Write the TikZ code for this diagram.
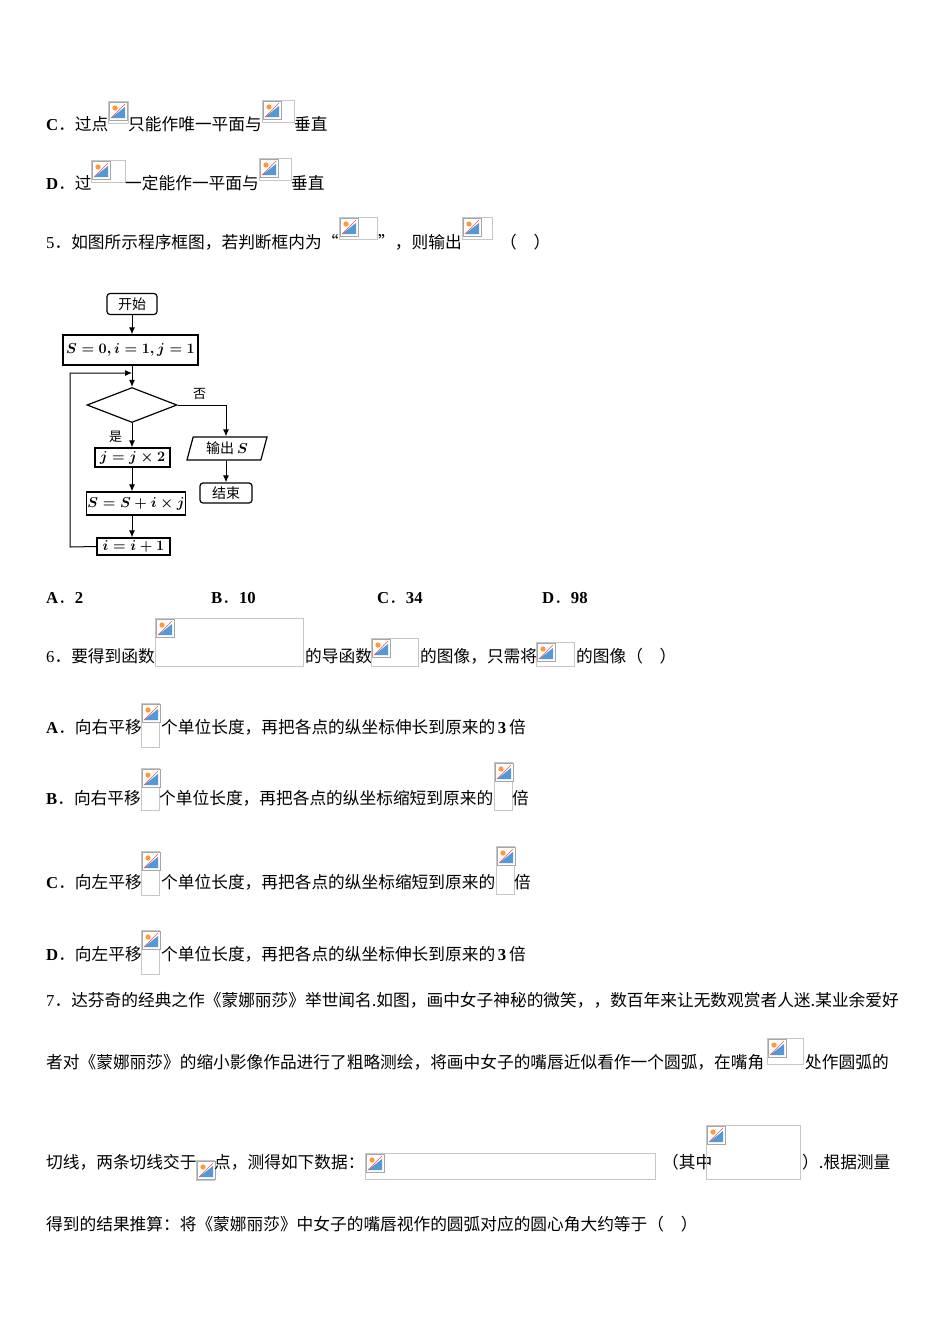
\documentclass[tikz,border=0pt]{standalone}
\usepackage{fontspec}
\usetikzlibrary{shapes.geometric,arrows.meta}
\setmainfont{Liberation Serif}
\newfontfamily\cjk{Noto Sans CJK SC}
\newcommand{\lb}[1]{{\rmfamily\bfseries #1}}
\begin{document}
\begin{tikzpicture}[x=1pt,y=-1pt,
  tx/.style={anchor=base west,inner sep=0pt,font=\fontsize{16.7}{19}\selectfont\cjk},
  fb/.style={draw,line width=1.2pt,inner sep=2pt,font=\fontsize{14}{16}\selectfont\boldmath},
  arr/.style={-{Latex[length=7pt,width=6pt]},line width=1pt}]
\useasboundingbox (0,0) rectangle (950,1344);
\fill[white] (0,0) rectangle (950,1344);
\newcommand{\imgbox}[4]{%
  \draw[gray!45,line width=0.6pt] (#1,#2) rectangle ++(#3,#4);
  \begin{scope}[shift={(#1+1,#2+1)}]
    \fill[white] (0,0) rectangle (18,18);
    \draw[gray!70,line width=0.6pt] (0,0) rectangle (18,18);
    \fill[cyan!60!blue!70] (2,16) -- (16,5) -- (16,16) -- cycle;
    \fill[orange!80] (6,6) circle (2.6);
    \draw[red!70,line width=0.6pt] (2,16) -- (16,2);
  \end{scope}}
% line C
\node[tx] (c1) at (46,130) {\lb{C}．过点};
\imgbox{108}{101}{20}{22}
\node[tx] (c2) at (128,130) {只能作唯一平面与};
\imgbox{262}{100}{32}{22}
\node[tx] (c3) at (294,130) {垂直};
% line D
\node[tx] (d1) at (46,189) {\lb{D}．过};
\imgbox{91}{160}{34}{22}
\node[tx] (d2) at (125,189) {一定能作一平面与};
\imgbox{259}{158}{32}{22}
\node[tx] (d3) at (291,189) {垂直};
% line 5
\node[tx] (q5a) at (46,248) {{\rmfamily 5}．如图所示程序框图，若判断框内为“};
\imgbox{339}{217}{38}{22}
\node[tx] (q5b) at (378,248) {”，则输出};
\imgbox{462}{217}{30}{22}
\node[tx] (q5c) at (500,248) {（\quad）};
% flowchart
\node[fb,rounded corners=3pt,minimum width=50pt,minimum height=21pt,font=\fontsize{14}{16}\selectfont\cjk] (st) at (132,304) {开始};
\node[fb,minimum width=135pt,minimum height=30pt] (init) at (130.5,350) {$S=0,i=1,j=1$};
\coordinate (m1) at (132,373);
\node[draw,line width=1.2pt,diamond,aspect=2.6,minimum width=90pt,minimum height=35pt,inner sep=0pt] (dia) at (132,405) {};
\node[fb,minimum width=75pt,minimum height=19pt,inner sep=1pt] (jb) at (132.5,457.5) {$j=j\times2$};
\node[fb,minimum width=98pt,minimum height=23pt,inner sep=1pt] (sb) at (136,503.5) {$S=S+i\times j$};
\node[fb,minimum width=73pt,minimum height=17pt,inner sep=1pt] (ib) at (133.5,546.5) {$i=i+1$};
\node[fb,trapezium,trapezium left angle=75,trapezium right angle=105,minimum width=66pt,minimum height=23pt,inner sep=1pt,font=\fontsize{14}{16}\selectfont\cjk\boldmath] (out) at (227,448.5) {输出 $S$};
\node[fb,rounded corners=3pt,minimum width=52pt,minimum height=20pt,font=\fontsize{14}{16}\selectfont\cjk] (end) at (226,493) {结束};
\coordinate (r1) at (226,405);
\coordinate (l1) at (70,547);
\coordinate (l2) at (70,373);
\draw[arr] (st.south -| m1) -- (init.north -| m1);
\draw[arr] (init.south -| m1) -- (dia.north);
\draw[arr] (dia.south) -- (jb.north -| m1);
\draw[arr] (jb.south -| m1) -- (sb.north -| m1);
\draw[arr] (sb.south -| m1) -- (ib.north -| m1);
\draw[arr] (dia.east) -- (r1) -- (out.north -| r1);
\draw[arr] (out.south -| r1) -- (end.north -| r1);
\draw[arr] (ib.west) -- (l1) -- (l2) -- (m1);
\node[tx,font=\fontsize{13}{15}\selectfont\cjk] (no) at (193,398) {否};
\node[tx,font=\fontsize{13}{15}\selectfont\cjk] (yes) at (109,441) {是};
% answers
\node[tx] (a1) at (46,603) {\lb{A}．\lb{2}};
\node[tx] (a2) at (211,603) {\lb{B}．\lb{10}};
\node[tx] (a3) at (377,603) {\lb{C}．\lb{34}};
\node[tx] (a4) at (542,603) {\lb{D}．\lb{98}};
% line 6
\node[tx] (s6a) at (46,662) {{\rmfamily 6}．要得到函数};
\imgbox{155}{618}{148}{48}
\node[tx] (s6b) at (305,662) {的导函数};
\imgbox{371}{638}{47}{28}
\node[tx] (s6c) at (420,662) {的图像，只需将};
\imgbox{536}{642}{38}{24}
\node[tx] (s6d) at (576,662) {的图像（\quad）};
% options
\node[tx] (oa1) at (46,733) {\lb{A}．向右平移};
\imgbox{141}{703}{18}{44}
\node[tx] (oa2) at (161,733) {个单位长度，再把各点的纵坐标伸长到原来的\,\lb{3}\,倍};
\node[tx] (ob1) at (46,804) {\lb{B}．向右平移};
\imgbox{141}{768}{18}{42}
\node[tx] (ob2) at (159,804) {个单位长度，再把各点的纵坐标缩短到原来的};
\imgbox{494}{762}{18}{48}
\node[tx] (ob3) at (512,804) {倍};
\node[tx] (oc1) at (46,888) {\lb{C}．向左平移};
\imgbox{141}{851}{18}{44}
\node[tx] (oc2) at (161,888) {个单位长度，再把各点的纵坐标缩短到原来的};
\imgbox{496}{846}{18}{48}
\node[tx] (oc3) at (514,888) {倍};
\node[tx] (od1) at (46,960) {\lb{D}．向左平移};
\imgbox{141}{930}{18}{44}
\node[tx] (od2) at (161,960) {个单位长度，再把各点的纵坐标伸长到原来的\,\lb{3}\,倍};
% question 7
\node[tx] (q7a) at (46,1006) {{\rmfamily 7}．达芬奇的经典之作《蒙娜丽莎》举世闻名.如图，画中女子神秘的微笑，，数百年来让无数观赏者人迷.某业余爱好};
\node[tx] (q7b) at (46,1068) {者对《蒙娜丽莎》的缩小影像作品进行了粗略测绘，将画中女子的嘴唇近似看作一个圆弧，在嘴角};
\imgbox{767}{1038}{36}{26}
\node[tx] (q7c) at (805,1068) {处作圆弧的};
\node[tx] (q7d) at (46,1168) {切线，两条切线交于};
\imgbox{196}{1160}{18}{20}
\node[tx] (q7e) at (214,1168) {点，测得如下数据：};
\imgbox{365}{1153}{290}{26}
\node[tx] (q7f) at (662,1168) {（其中};
\imgbox{706}{1125}{94}{54}
\node[tx] (q7g) at (802,1168) {）.根据测量};
\node[tx] (q7h) at (46,1230) {得到的结果推算：将《蒙娜丽莎》中女子的嘴唇视作的圆弧对应的圆心角大约等于（\quad）};
\end{tikzpicture}
\end{document}
